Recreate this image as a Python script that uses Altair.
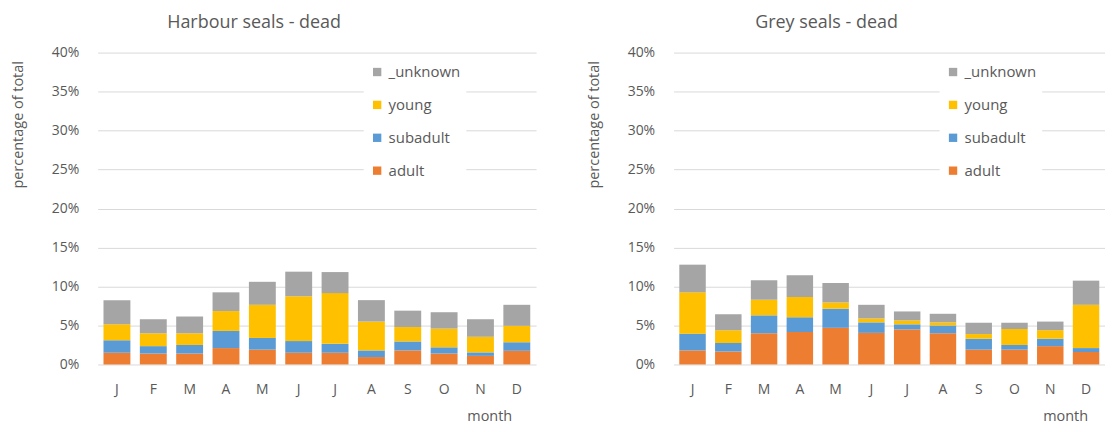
import altair as alt
import pandas as pd

months = ["Jan", "Feb", "Mar", "Apr", "May", "Jun", "Jul", "Aug", "Sep", "Oct", "Nov", "Dec"]
categories = ["_unknown", "young", "subadult", "adult"]
stack_order = {"adult": 0, "subadult": 1, "young": 2, "_unknown": 3}
colors = ["#A5A5A5", "#FFC000", "#5B9BD5", "#ED7D31"]

harbour_adult = [1.5, 1.4, 1.4, 2.1, 1.9, 1.5, 1.5, 0.95, 1.8, 1.4, 1.1, 1.75]
harbour_subadult = [1.6, 0.95, 1.1, 2.2, 1.5, 1.5, 1.15, 0.85, 1.15, 0.8, 0.45, 1.1]
harbour_young = [2.05, 1.65, 1.5, 2.55, 4.25, 5.75, 6.5, 3.7, 1.85, 2.4, 2.0, 2.1]
harbour_unknown = [3.1, 1.8, 2.15, 2.4, 2.95, 3.15, 2.7, 2.75, 2.1, 2.1, 2.25, 2.7]

grey_adult = [1.8, 1.65, 4.0, 4.15, 4.7, 4.05, 4.5, 4.0, 1.9, 1.9, 2.35, 1.6]
grey_subadult = [2.15, 1.1, 2.3, 1.9, 2.45, 1.35, 0.65, 1.0, 1.4, 0.6, 0.95, 0.5]
grey_young = [5.3, 1.65, 2.0, 2.6, 0.8, 0.5, 0.5, 0.4, 0.6, 2.05, 1.1, 5.55]
grey_unknown = [3.55, 2.05, 2.5, 2.8, 2.5, 1.75, 1.15, 1.1, 1.45, 0.8, 1.1, 3.1]

FONT = "Open Sans"
GREY_TXT = "#595959"


def make_df(adult, subadult, young, unknown):
    rows = []
    series = {"adult": adult, "subadult": subadult, "young": young, "_unknown": unknown}
    for cat, vals in series.items():
        for m, v in zip(months, vals):
            rows.append({"month": m, "category": cat, "value": v / 100.0, "ord": stack_order[cat]})
    return pd.DataFrame(rows)


def panel(df, title, w, month_x):
    return alt.Chart(df, title=alt.TitleParams(
        title, fontSize=18, font=FONT, color=GREY_TXT, fontWeight="normal",
        anchor="middle", dx=-63, offset=14)).mark_bar().encode(
        x=alt.X("month:N", sort=months,
                scale=alt.Scale(paddingInner=0.26, paddingOuter=0.16),
                axis=alt.Axis(title="month", labelExpr="substring(datum.label, 0, 1)",
                              labelAngle=0, domain=False, ticks=False, labelPadding=18,
                              labelFontSize=14, labelColor=GREY_TXT, labelFont=FONT,
                              titleFont=FONT, titleFontSize=14.5, titleColor=GREY_TXT,
                              titleFontWeight="normal", titleX=month_x, titleY=52,
                              titleAlign="center", titleBaseline="middle")),
        y=alt.Y("value:Q", stack="zero",
                scale=alt.Scale(domain=[0, 0.40], nice=False),
                axis=alt.Axis(title="percentage of total", format=".0%",
                              values=[0, 0.05, 0.10, 0.15, 0.20, 0.25, 0.30, 0.35, 0.40],
                              domain=False, ticks=False, labelPadding=19,
                              labelFontSize=14, labelColor=GREY_TXT, labelFont=FONT,
                              gridColor="#d9d9d9", gridWidth=1,
                              titleFont=FONT, titleFontSize=14.5, titleColor=GREY_TXT,
                              titleFontWeight="normal", titleX=-79, titleY=72,
                              titleAngle=-90, titleAlign="center", titleBaseline="middle")),
        color=alt.Color("category:N",
                        scale=alt.Scale(domain=categories, range=colors),
                        legend=alt.Legend(title=None, orient="none", legendX=267, legendY=6,
                                          symbolType="square", symbolSize=70,
                                          symbolStrokeWidth=0, labelFontSize=15,
                                          labelFont=FONT, labelColor=GREY_TXT,
                                          rowPadding=17, labelOffset=4,
                                          fillColor="white", padding=6)),
        order=alt.Order("ord:Q", sort="ascending"),
    ).properties(width=w, height=313)


left = panel(make_df(harbour_adult, harbour_subadult, harbour_young, harbour_unknown),
             "Harbour seals - dead", 440, 393)
right = panel(make_df(grey_adult, grey_subadult, grey_young, grey_unknown),
              "Grey seals - dead", 433, 393)

chart = alt.hconcat(left, right, spacing=51).resolve_scale(color="independent").resolve_legend(
    color="independent").configure_view(stroke=None).properties(
    padding={"left": 3, "top": 5, "right": 0, "bottom": 0}, background="white")

chart.save("out.html", embed_options={"renderer": "svg", "actions": False})
